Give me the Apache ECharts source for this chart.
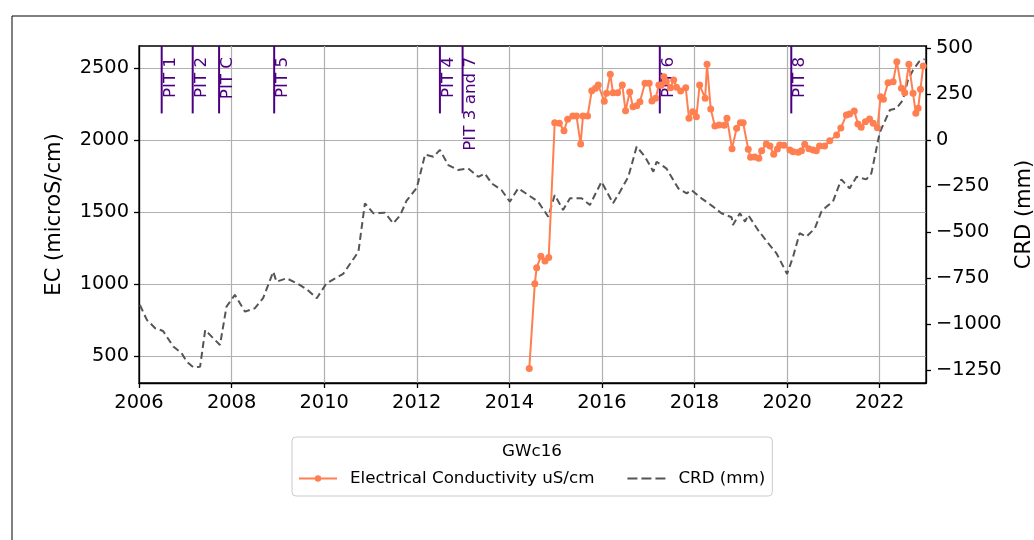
<!DOCTYPE html>
<html>
<head>
<meta charset="utf-8">
<script src="https://cdn.jsdelivr.net/npm/echarts@6/dist/echarts.min.js"></script>
<style>
html,body{margin:0;padding:0;background:#fff;}
#chart{width:1034px;height:540px;}
</style>
</head>
<body>
<div id="chart"></div>
<script>
// ---- data ----
const xTicks = [2006, 2008, 2010, 2012, 2014, 2016, 2018, 2020, 2022];
const ecTicks = [500, 1000, 1500, 2000, 2500];
const crdTicks = [-1250, -1000, -750, -500, -250, 0, 250, 500];

const ecYears = [2014.43,2014.55,2014.59,2014.68,2014.77,2014.85,2014.98,2015.08,2015.18,2015.26,2015.37,2015.45,2015.54,2015.59,2015.69,2015.78,2015.86,2015.92,2016.05,2016.10,2016.18,2016.24,2016.34,2016.44,2016.51,2016.60,2016.67,2016.75,2016.82,2016.93,2017.02,2017.08,2017.16,2017.23,2017.28,2017.34,2017.39,2017.48,2017.55,2017.61,2017.70,2017.81,2017.88,2017.96,2018.04,2018.11,2018.23,2018.27,2018.35,2018.44,2018.53,2018.64,2018.70,2018.81,2018.91,2018.99,2019.05,2019.16,2019.21,2019.30,2019.39,2019.45,2019.55,2019.63,2019.71,2019.79,2019.84,2019.93,2020.06,2020.13,2020.24,2020.31,2020.38,2020.47,2020.56,2020.63,2020.70,2020.81,2020.92,2021.07,2021.16,2021.28,2021.35,2021.45,2021.53,2021.60,2021.69,2021.78,2021.86,2021.95,2022.02,2022.08,2022.18,2022.29,2022.37,2022.47,2022.54,2022.63,2022.72,2022.78,2022.83,2022.88,2022.94];
const ecValues = [412,1002,1113,1192,1160,1183,2120,2116,2065,2144,2167,2167,1972,2167,2167,2342,2359,2382,2269,2324,2456,2328,2328,2382,2203,2333,2231,2238,2266,2394,2394,2271,2290,2382,2380,2440,2405,2363,2417,2366,2340,2363,2151,2197,2162,2382,2290,2526,2215,2097,2104,2102,2151,1940,2081,2120,2120,1935,1880,1882,1873,1926,1972,1958,1901,1938,1965,1963,1931,1919,1915,1926,1970,1940,1931,1926,1958,1958,1995,2035,2083,2174,2181,2201,2111,2088,2127,2146,2116,2085,2301,2283,2398,2405,2544,2359,2328,2526,2324,2185,2220,2352,2514];

const crdYears = [2006.02,2006.17,2006.35,2006.52,2006.74,2006.92,2007.03,2007.17,2007.32,2007.43,2007.57,2007.75,2007.89,2008.07,2008.29,2008.50,2008.68,2008.90,2008.97,2009.19,2009.41,2009.62,2009.84,2010.05,2010.41,2010.74,2010.88,2011.06,2011.31,2011.49,2011.64,2011.78,2012.00,2012.18,2012.36,2012.50,2012.68,2012.89,2013.11,2013.33,2013.47,2013.62,2013.83,2014.01,2014.19,2014.41,2014.62,2014.84,2014.98,2015.16,2015.31,2015.56,2015.74,2015.99,2016.24,2016.39,2016.57,2016.75,2016.93,2017.11,2017.18,2017.39,2017.65,2017.83,2017.93,2018.15,2018.40,2018.58,2018.80,2018.83,2018.98,2019.09,2019.16,2019.37,2019.59,2019.77,2020.00,2020.13,2020.27,2020.42,2020.60,2020.74,2020.85,2020.99,2021.17,2021.35,2021.50,2021.71,2021.82,2022.00,2022.22,2022.36,2022.50,2022.61,2022.72,2022.85,2022.97];
const crdValues = [-897,-978,-1023,-1038,-1123,-1159,-1205,-1235,-1232,-1033,-1069,-1114,-906,-842,-933,-915,-860,-716,-770,-752,-779,-811,-860,-779,-728,-607,-344,-398,-395,-453,-410,-330,-260,-79,-91,-54,-136,-163,-154,-200,-182,-236,-272,-335,-263,-299,-335,-417,-299,-380,-317,-317,-353,-227,-344,-281,-200,-36,-91,-172,-118,-154,-263,-290,-272,-317,-362,-398,-420,-462,-398,-444,-408,-489,-561,-616,-728,-634,-507,-525,-480,-390,-362,-335,-214,-263,-200,-214,-181,40,163,172,217,326,380,426,440];

const pitYears = [2006.49, 2007.16, 2007.73, 2008.92, 2012.50, 2012.99, 2017.25, 2020.09];
const pitLabels = ['PIT 1', 'PIT 2', 'PIT C', 'PIT 5', 'PIT 4', 'PIT 3 and 7', 'PIT 6', 'PIT 8'];

const ecName = 'Electrical Conductivity uS/cm';
const crdName = 'CRD (mm)';
const legendTitle = 'GWc16';

// ---- chart ----
const FONT = 'DejaVu Sans';
const TICK_FS = 19.4;
const NAME_FS = 21;
const chart = echarts.init(document.getElementById('chart'), null, {renderer: 'canvas'});
const minus = v => String(v).replace('-', '\u2212');

const pitColor = '#4b0082';
function renderPit(params, api) {
  const cs = params.coordSys;
  const x = api.coord([api.value(0), api.value(1)])[0];
  return {
    type: 'group',
    children: [
      {type: 'line', shape: {x1: x, y1: cs.y, x2: x, y2: cs.y + 0.2 * cs.height},
       style: {stroke: pitColor, lineWidth: 2}},
      {type: 'text', x: x, y: cs.y + 11, rotation: Math.PI / 2,
       style: {text: pitLabels[params.dataIndex], fill: pitColor,
               font: '16.7px "DejaVu Sans"', align: 'right', verticalAlign: 'top'}}
    ]
  };
}

const axisLineStyle = {color: '#000', width: 1.3};
const tickStyle = {color: '#000', width: 1.3};
const gridLine = {color: '#b0b0b0', width: 1.2};
const option = {
  animation: false,
  backgroundColor: '#ffffff',
  textStyle: {fontFamily: FONT},
  grid: {left: 139, right: 108, top: 46, bottom: 157, show: true,
         outerBoundsMode: 'none', containLabel: false,
         borderColor: '#000', borderWidth: 1.3, backgroundColor: 'transparent'},
  graphic: [
    {type: 'line', z: 100, shape: {x1: 12, y1: 16, x2: 1034, y2: 16}, style: {stroke: '#000', lineWidth: 1}},
    {type: 'line', z: 100, shape: {x1: 12, y1: 16, x2: 12, y2: 540}, style: {stroke: '#000', lineWidth: 1}},
    {type: 'text', z: 100, x: 532, y: 452, style: {text: legendTitle, font: '16.7px "DejaVu Sans"',
      fill: '#000', align: 'center', verticalAlign: 'middle'}}
  ],
  legend: {
    data: [
      {name: ecName},
      {name: crdName, icon: 'path://M0,0h10v2h-10z M14,0h10v2h-10z M28,0h10v2h-10z'}
    ],
    left: 292, top: 437,
    orient: 'horizontal',
    padding: [33, 7, 9, 6],
    itemGap: 33,
    itemWidth: 38,
    itemHeight: 8,
    symbolKeepAspect: true,
    borderColor: '#cccccc', borderWidth: 1, borderRadius: 4,
    backgroundColor: 'rgba(255,255,255,0.8)',
    textStyle: {fontFamily: FONT, fontSize: 16.7, color: '#000', padding: [0, 0, 0, 8]}
  },
  xAxis: {
    type: 'value', min: 2006, max: 2023,
    axisLine: {onZero: false, lineStyle: axisLineStyle},
    axisTick: {show: true, length: 5, lineStyle: tickStyle, customValues: xTicks},
    axisLabel: {color: '#000', fontSize: TICK_FS, fontFamily: FONT, margin: 10,
                customValues: xTicks, formatter: v => String(v)},
    splitLine: {show: true, lineStyle: gridLine}
  },
  yAxis: [
    {
      type: 'value', min: 312, max: 2653, position: 'left',
      name: 'EC (microS/cm)', nameLocation: 'middle', nameGap: 74,
      nameTextStyle: {color: '#000', fontSize: NAME_FS, fontFamily: FONT},
      axisLine: {show: true, onZero: false, lineStyle: axisLineStyle},
      axisTick: {show: true, length: 5, lineStyle: tickStyle, customValues: ecTicks},
      axisLabel: {color: '#000', fontSize: TICK_FS, fontFamily: FONT, margin: 10,
                  customValues: ecTicks, formatter: v => String(v)},
      splitLine: {show: true, lineStyle: gridLine}
    },
    {
      type: 'value', min: -1321, max: 511, position: 'right',
      name: 'CRD (mm)', nameLocation: 'middle', nameGap: 88,
      nameTextStyle: {color: '#000', fontSize: NAME_FS, fontFamily: FONT},
      axisLine: {show: true, onZero: false, lineStyle: axisLineStyle},
      axisTick: {show: true, length: 5, lineStyle: tickStyle, customValues: crdTicks},
      axisLabel: {color: '#000', fontSize: TICK_FS, fontFamily: FONT, margin: 10,
                  customValues: crdTicks, formatter: minus},
      splitLine: {show: false}
    }
  ],
  series: [
    {
      name: 'PIT', type: 'custom', xAxisIndex: 0, yAxisIndex: 0,
      renderItem: renderPit, clip: false, silent: true, z: 3,
      data: pitYears.map(y => [y, 1500])
    },
    {
      name: crdName, type: 'line', yAxisIndex: 1, symbol: 'none', z: 4,
      data: crdYears.map((y, i) => [y, crdValues[i]]),
      lineStyle: {color: '#555555', width: 2, type: [7, 4]},
      itemStyle: {color: '#555555'}
    },
    {
      name: ecName, type: 'line', yAxisIndex: 0, z: 5,
      symbol: 'circle', symbolSize: 7,
      data: ecYears.map((y, i) => [y, ecValues[i]]),
      lineStyle: {color: '#ff7f50', width: 2},
      itemStyle: {color: '#ff7f50'}
    }
  ]
};
chart.setOption(option);
</script>
</body>
</html>
